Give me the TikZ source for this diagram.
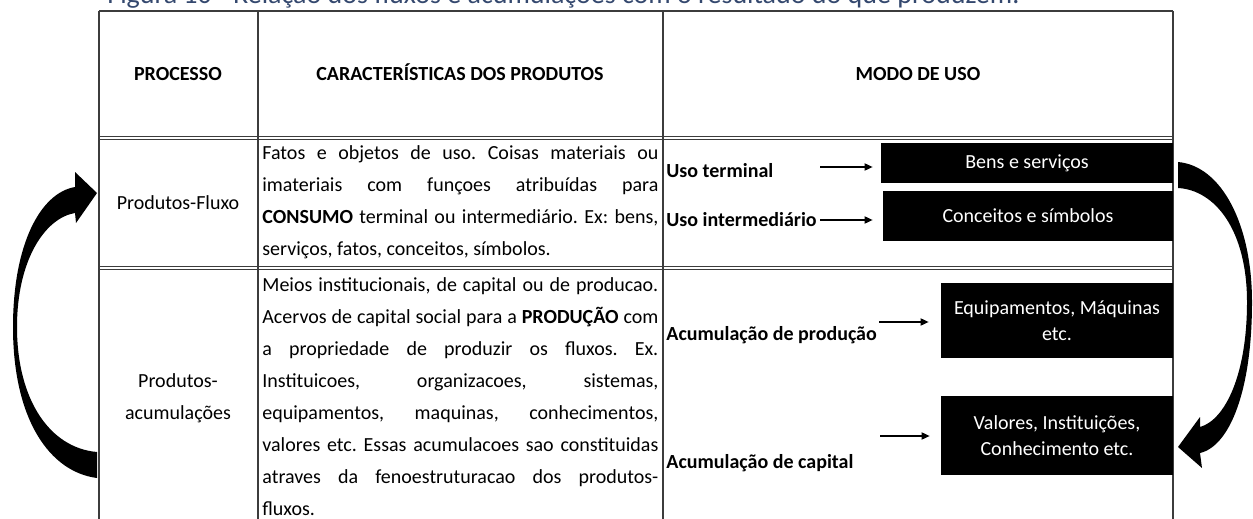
\documentclass[tikz,border=0pt]{standalone}
\usepackage{fontspec}
\setmainfont{Carlito}
\usetikzlibrary{arrows.meta}
\definecolor{tabgray}{RGB}{60,60,60}
\definecolor{capblue}{RGB}{52,72,110}
\newcommand{\jline}[1]{\makebox[198pt][s]{#1}}
\frenchspacing

\begin{document}
\begin{tikzpicture}[x=0.5pt,y=-0.5pt,
    tab/.style={tabgray,line width=0.7pt},
    tabdbl/.style={tabgray,line width=0.45pt,double,double distance=0.9pt},
    hd/.style={font=\bfseries\fontsize{10}{12}\selectfont,inner sep=0,anchor=base},
    proc/.style={font=\fontsize{10}{16}\selectfont,inner sep=0,align=center},
    para/.style={font=\fontsize{10}{16}\selectfont,inner sep=0,align=left,anchor=north west},
    uso/.style={font=\bfseries\fontsize{10}{12}\selectfont,inner sep=0,anchor=west},
    blk/.style={fill=black,text=white,inner sep=0,font=\fontsize{10}{13}\selectfont,align=center},
    arr/.style={-{Triangle[length=4pt,width=3.6pt]},line width=0.6pt}]
    \useasboundingbox (0,0) rectangle (1253,519);
    \clip (0,0) rectangle (1253,519);
    \node[anchor=base west,inner sep=0,text=capblue,font=\fontsize{14}{16}\selectfont] (caption) at (107,4) {Figura 10 - Relação dos fluxos e acumulações com o resultado do que produzem.};
    \draw[tabdbl] (99,138) -- (1173,138);
    \draw[tabdbl] (99,268) -- (1173,268);
    \draw[tab,line width=1.1pt] (99,11) -- (1173,11);
    \draw[tab] (99,11) -- (99,519) (258,11) -- (258,519) (663,11) -- (663,519) (1173,11) -- (1173,519);
    \node[hd] (hproc) at (178,81) {PROCESSO};
    \node[hd] (hcar) at (460,81) {CARACTERÍSTICAS DOS PRODUTOS};
    \node[hd] (hmodo) at (918,81) {MODO DE USO};
    \node[proc] (fluxo) at (178,203) {Produtos-Fluxo};
    \node[proc] (acum) at (178,398) {Produtos-\\acumulações};
    \node[para] (fluxotxt) at (262,137) {\strut\jline{Fatos e objetos de uso. Coisas materiais ou}\\
        \jline{imateriais com funçoes atribuídas para}\\
        \jline{\textbf{CONSUMO} terminal ou intermediário. Ex: bens,}\\
        serviços, fatos, conceitos, símbolos.};
    \node[para] (acumtxt) at (262,269) {\strut\jline{Meios institucionais, de capital ou de producao.}\\
        \jline{Acervos de capital social para a \textbf{PRODUÇÃO} com}\\
        \jline{a propriedade de produzir os fluxos. Ex.}\\
        \jline{Instituicoes, organizacoes, sistemas,}\\
        \jline{equipamentos, maquinas, conhecimentos,}\\
        \jline{valores etc. Essas acumulacoes sao constituidas}\\
        \jline{atraves da fenoestruturacao dos produtos-}\\
        fluxos.};
    \node[uso] (usoterm) at (666,171) {Uso terminal};
    \node[uso] (usoint) at (666,220) {Uso intermediário};
    \node[uso] (acprod) at (666,335) {Acumulação de produção};
    \node[uso] (accap) at (666,463) {Acumulação de capital};
    \node[blk,minimum width=146pt,minimum height=20pt] (bens) at (1027,163) {Bens e serviços};
    \node[blk,minimum width=145pt,minimum height=25pt] (conc) at (1028,216) {Conceitos e símbolos};
    \node[blk,minimum width=116pt,minimum height=37.5pt] (equip) at (1057,320.5) {Equipamentos, Máquinas\\etc.};
    \node[blk,minimum width=116pt,minimum height=39.5pt] (valor) at (1057,435.5) {Valores, Instituições,\\Conhecimento etc.};
    \coordinate (a1) at (820,167);
    \coordinate (a3) at (879,322);
    \coordinate (a4) at (880,436);
    \draw[arr,shorten >=4pt] (a1) -- (a1 -| bens.west);
    \draw[arr,shorten <=1.5pt,shorten >=5pt] (usoint.east) -- (usoint.east -| conc.west);
    \draw[arr,shorten >=6pt] (a3) -- (a3 -| equip.west);
    \draw[arr,shorten >=5.5pt] (a4) -- (a4 -| valor.west);
    \fill (97,452) -- (97,478) .. controls (50,472) and (13,420) .. (13,327) .. controls (13,245) and (40,193) .. (75,187) -- (75,172) -- (97,193) -- (76,223) -- (75,213) .. controls (45,218) and (17,260) .. (17,327) .. controls (17,400) and (50,448) .. (97,452) -- cycle;
    \fill (1178,162) .. controls (1222,166) and (1252,225) .. (1252,302) .. controls (1252,390) and (1230,446) .. (1200,453) -- (1202,468) -- (1178,447) -- (1200,417) -- (1200,427) .. controls (1225,420) and (1247,375) .. (1247,302) .. controls (1247,230) and (1215,190) .. (1178,188) -- cycle;
\end{tikzpicture}
\end{document}
